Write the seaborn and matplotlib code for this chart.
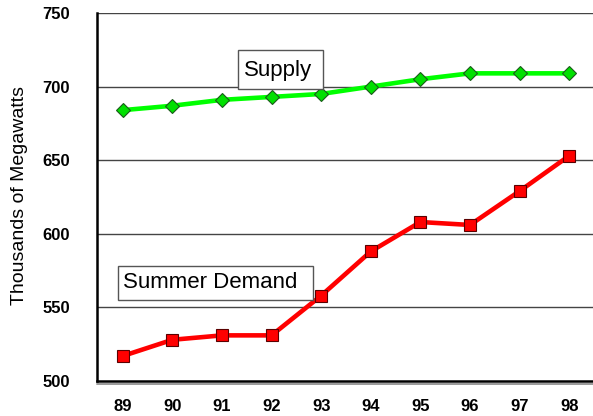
import matplotlib
matplotlib.use("Agg")
import matplotlib.pyplot as plt
from matplotlib.patches import Rectangle
import seaborn as sns
import pandas as pd

years = ["89", "90", "91", "92", "93", "94", "95", "96", "97", "98"]
supply = [684, 687, 691, 693, 695, 700, 705, 709, 709, 709]
summer_demand = [517, 528, 531, 531, 558, 588, 608, 606, 629, 653]
y_ticks = [500, 550, 600, 650, 700, 750]

sns.set_style("white")
plt.rcParams["font.family"] = ["Liberation Sans", "DejaVu Sans"]
plt.rcParams["text.color"] = "black"
plt.rcParams["axes.labelcolor"] = "black"
plt.rcParams["xtick.color"] = "black"
plt.rcParams["ytick.color"] = "black"

pos = list(range(len(years)))
df = pd.DataFrame({
    "pos": pos * 2,
    "value": supply + summer_demand,
    "series": ["Supply"] * len(years) + ["Summer Demand"] * len(years),
})

fig = plt.figure(figsize=(5.93, 4.16), dpi=100)
ax = fig.add_axes([97 / 593, 35 / 416, 1 - 97 / 593 + 0.01, (381 - 13) / 416])

# horizontal gridlines
for v in y_ticks[1:]:
    ax.axhline(v, color="#444444", lw=1.0, zorder=1)

sns.lineplot(data=df[df.series == "Supply"], x="pos", y="value", ax=ax,
             color="#00ff00", lw=3.3, marker="D", markersize=6.8,
             markerfacecolor="#00e000", markeredgecolor="#1a5a1a",
             markeredgewidth=0.8, zorder=3, legend=False)
sns.lineplot(data=df[df.series == "Summer Demand"], x="pos", y="value", ax=ax,
             color="#ff0000", lw=3.3, marker="s", markersize=9,
             markerfacecolor="#ff0000", markeredgecolor="#5a0000",
             markeredgewidth=0.8, zorder=3, legend=False)

ax.set_xlim(-0.52, 9.6)
ax.set_ylim(500, 750)
ax.set_xticks(pos)
ax.set_xticklabels(years, fontsize=12, fontweight="bold")
ax.set_yticks(y_ticks)
ax.set_yticklabels([str(t) for t in y_ticks], fontsize=12, fontweight="bold")
ax.tick_params(axis="both", length=0)
ax.tick_params(axis="x", pad=13)
ax.tick_params(axis="y", pad=19.5)
ax.set_xlabel("")
ax.set_ylabel("Thousands of Megawatts", fontsize=14)
ax.yaxis.set_label_coords(-0.137, 0.504)

for side in ["top", "right"]:
    ax.spines[side].set_visible(False)
ax.spines["left"].set_linewidth(1.8)
ax.spines["left"].set_color("black")
ax.spines["bottom"].set_linewidth(1.8)
ax.spines["bottom"].set_color("black")
# shadow under the baseline
ax.plot([0, 1], [-0.007, -0.007], transform=ax.transAxes, color="#9a9a9a",
        lw=1.4, clip_on=False)

# boxed series labels
ax.add_patch(Rectangle((2.325, 698.4), 1.705, 26.5, facecolor="white",
                       edgecolor="#555555", lw=1, zorder=4))
ax.text(2.445, 707.2, "Supply", fontsize=16, ha="left", va="baseline", zorder=5)
ax.add_patch(Rectangle((-0.10, 555.0), 3.93, 23.3, facecolor="white",
                       edgecolor="#555555", lw=1, zorder=4))
ax.text(0.006, 563.0, "Summer Demand", fontsize=16, ha="left", va="baseline", zorder=5)

fig.savefig("out.png", dpi=100)
